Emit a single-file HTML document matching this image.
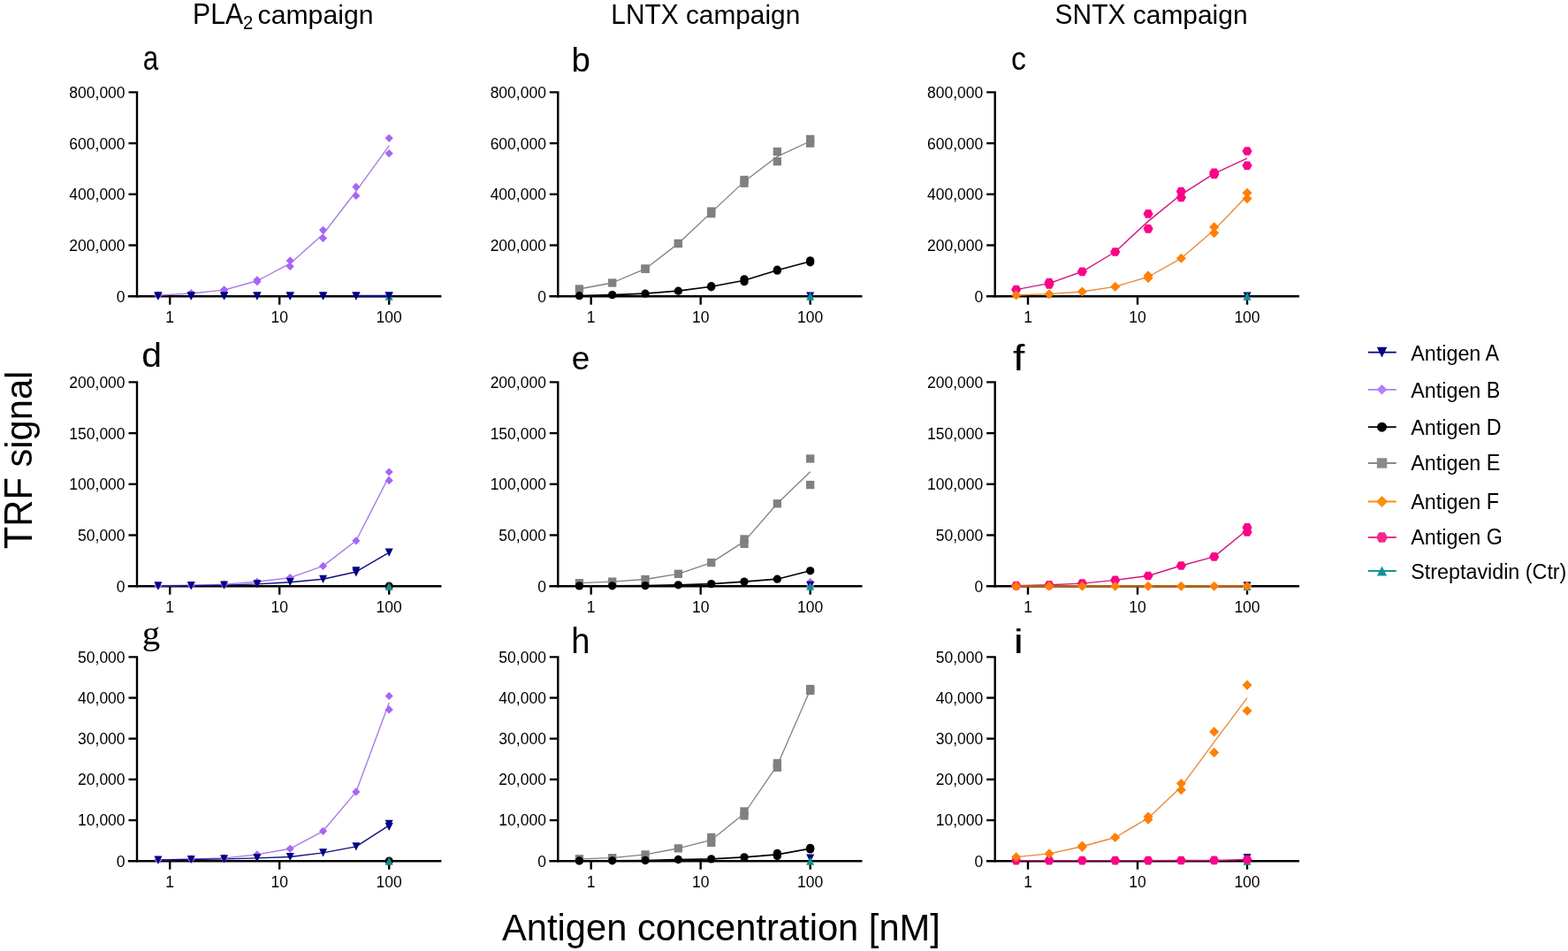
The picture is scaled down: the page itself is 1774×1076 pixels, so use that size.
<!DOCTYPE html><html><head><meta charset="utf-8"><title>TRF signal vs antigen concentration</title>
<style>html,body{margin:0;padding:0;background:#fff;}svg{display:block;}text{font-family:"Liberation Sans", Arial, Helvetica, sans-serif;fill:#000;}</style></head><body>
<svg width="1774" height="1076" viewBox="0 0 1774 1076">
<rect width="1774" height="1076" fill="#fff"/>
<text transform="translate(218 27.1) scale(1 1.07)" font-size="30.2">PLA<tspan x="57" y="5.14" font-size="20.2">2</tspan></text>
<text x="291.6" y="27.1" font-size="30.2">campaign</text>
<text transform="translate(691.3 27.1) scale(1 1.07)" font-size="29.85">LNTX</text>
<text x="775.88" y="27.1" font-size="29.85">campaign</text>
<text transform="translate(1193.6 27.1) scale(1 1.07)" font-size="29.95">SNTX</text>
<text x="1281.77" y="27.1" font-size="29.95">campaign</text>
<text transform="matrix(0.7854 0 0 0.9563 161.73 79.46)" font-size="40">a</text>
<text transform="matrix(0.9611 0 0 0.9915 646.60 81.25)" font-size="40">b</text>
<text transform="matrix(0.8464 0 0 0.9379 1143.92 79.37)" font-size="40">c</text>
<text transform="matrix(1.0222 0 0 0.9915 160.21 414.95)" font-size="40">d</text>
<text transform="matrix(0.9227 0 0 0.9379 646.79 417.77)" font-size="40">e</text>
<text transform="matrix(1.2000 0 0 1.0000 1146.10 418.80)" font-size="40">f</text>
<text transform="matrix(1.0229 0 0 0.9517 160.71 728.71)" font-size="40" style="font-family:'Liberation Serif',serif">g</text>
<text transform="matrix(0.9529 0 0 1.0103 646.28 739.40)" font-size="40">h</text>
<text transform="matrix(1.2571 0 0 0.9517 1146.64 739.40)" font-size="40">i</text>
<path d="M145.5 104.4H155V336.4" fill="none" stroke="#000" stroke-width="2.4" stroke-linejoin="miter" stroke-linecap="butt"/>
<path d="M144.8 335.2H499.4" stroke="#000" stroke-width="2.4"/>
<path d="M145.5 277.5H155" stroke="#000" stroke-width="2.4"/>
<path d="M145.5 219.8H155" stroke="#000" stroke-width="2.4"/>
<path d="M145.5 162.1H155" stroke="#000" stroke-width="2.4"/>
<text x="141.6" y="341.6" font-size="17.5" text-anchor="end">0</text>
<text x="141.6" y="283.9" font-size="17.5" text-anchor="end">200,000</text>
<text x="141.6" y="226.2" font-size="17.5" text-anchor="end">400,000</text>
<text x="141.6" y="168.5" font-size="17.5" text-anchor="end">600,000</text>
<text x="141.6" y="110.8" font-size="17.5" text-anchor="end">800,000</text>
<path d="M192.2 335.2V344.7" stroke="#000" stroke-width="2.4"/>
<text x="192.2" y="364.7" font-size="17.5" text-anchor="middle">1</text>
<path d="M316.2 335.2V344.7" stroke="#000" stroke-width="2.4"/>
<text x="316.2" y="364.7" font-size="17.5" text-anchor="middle">10</text>
<path d="M440.2 335.2V344.7" stroke="#000" stroke-width="2.4"/>
<text x="440.2" y="364.7" font-size="17.5" text-anchor="middle">100</text>
<polyline points="178.91,334.1 216.23,332 253.56,328.1 290.89,317.75 328.22,298.2 365.54,264.95 402.87,216.45 440.2,164.95" fill="none" stroke="#a97ae6" stroke-width="1.4" stroke-linejoin="round"/>
<polyline points="402.87,335 440.2,335" fill="none" stroke="#10107c" stroke-width="2.4" stroke-linejoin="round"/>
<polygon points="178.91,329.4 183.51,334 178.91,338.6 174.31,334" fill="#a864f8"/>
<polygon points="178.91,329.6 183.51,334.2 178.91,338.8 174.31,334.2" fill="#a864f8"/>
<polygon points="216.23,327.2 220.83,331.8 216.23,336.4 211.63,331.8" fill="#a864f8"/>
<polygon points="216.23,327.6 220.83,332.2 216.23,336.8 211.63,332.2" fill="#a864f8"/>
<polygon points="253.56,323.2 258.16,327.8 253.56,332.4 248.96,327.8" fill="#a864f8"/>
<polygon points="253.56,323.8 258.16,328.4 253.56,333 248.96,328.4" fill="#a864f8"/>
<polygon points="290.89,312.2 295.49,316.8 290.89,321.4 286.29,316.8" fill="#a864f8"/>
<polygon points="290.89,314.1 295.49,318.7 290.89,323.3 286.29,318.7" fill="#a864f8"/>
<polygon points="328.22,290.3 332.82,294.9 328.22,299.5 323.62,294.9" fill="#a864f8"/>
<polygon points="328.22,296.9 332.82,301.5 328.22,306.1 323.62,301.5" fill="#a864f8"/>
<polygon points="365.54,255.7 370.14,260.3 365.54,264.9 360.94,260.3" fill="#a864f8"/>
<polygon points="365.54,265 370.14,269.6 365.54,274.2 360.94,269.6" fill="#a864f8"/>
<polygon points="402.87,206.8 407.47,211.4 402.87,216 398.27,211.4" fill="#a864f8"/>
<polygon points="402.87,216.9 407.47,221.5 402.87,226.1 398.27,221.5" fill="#a864f8"/>
<polygon points="440.2,151.7 444.8,156.3 440.2,160.9 435.6,156.3" fill="#a864f8"/>
<polygon points="440.2,169 444.8,173.6 440.2,178.2 435.6,173.6" fill="#a864f8"/>
<polygon points="435.7,339.7 444.7,339.7 440.2,330.7" fill="#0e9090"/>
<polygon points="174.41,330.41 183.41,330.41 178.91,339.59" fill="#000080"/>
<polygon points="174.41,330.41 183.41,330.41 178.91,339.59" fill="#000080"/>
<polygon points="211.73,330.41 220.73,330.41 216.23,339.59" fill="#000080"/>
<polygon points="211.73,330.41 220.73,330.41 216.23,339.59" fill="#000080"/>
<polygon points="249.06,330.41 258.06,330.41 253.56,339.59" fill="#000080"/>
<polygon points="249.06,330.41 258.06,330.41 253.56,339.59" fill="#000080"/>
<polygon points="286.39,330.41 295.39,330.41 290.89,339.59" fill="#000080"/>
<polygon points="286.39,330.41 295.39,330.41 290.89,339.59" fill="#000080"/>
<polygon points="323.72,330.41 332.72,330.41 328.22,339.59" fill="#000080"/>
<polygon points="323.72,330.41 332.72,330.41 328.22,339.59" fill="#000080"/>
<polygon points="361.04,330.41 370.04,330.41 365.54,339.59" fill="#000080"/>
<polygon points="361.04,330.41 370.04,330.41 365.54,339.59" fill="#000080"/>
<polygon points="398.37,330.41 407.37,330.41 402.87,339.59" fill="#000080"/>
<polygon points="398.37,330.41 407.37,330.41 402.87,339.59" fill="#000080"/>
<polygon points="435.7,330.41 444.7,330.41 440.2,339.59" fill="#000080"/>
<polygon points="435.7,330.41 444.7,330.41 440.2,339.59" fill="#000080"/>
<path d="M621.8 104.4H631.3V336.4" fill="none" stroke="#000" stroke-width="2.4" stroke-linejoin="miter" stroke-linecap="butt"/>
<path d="M621.4 335.2H975.5" stroke="#000" stroke-width="2.4"/>
<path d="M621.8 277.5H631.3" stroke="#000" stroke-width="2.4"/>
<path d="M621.8 219.8H631.3" stroke="#000" stroke-width="2.4"/>
<path d="M621.8 162.1H631.3" stroke="#000" stroke-width="2.4"/>
<text x="617.9" y="341.6" font-size="17.5" text-anchor="end">0</text>
<text x="617.9" y="283.9" font-size="17.5" text-anchor="end">200,000</text>
<text x="617.9" y="226.2" font-size="17.5" text-anchor="end">400,000</text>
<text x="617.9" y="168.5" font-size="17.5" text-anchor="end">600,000</text>
<text x="617.9" y="110.8" font-size="17.5" text-anchor="end">800,000</text>
<path d="M668.7 335.2V344.7" stroke="#000" stroke-width="2.4"/>
<text x="668.7" y="364.7" font-size="17.5" text-anchor="middle">1</text>
<path d="M792.7 335.2V344.7" stroke="#000" stroke-width="2.4"/>
<text x="792.7" y="364.7" font-size="17.5" text-anchor="middle">10</text>
<path d="M916.7 335.2V344.7" stroke="#000" stroke-width="2.4"/>
<text x="916.7" y="364.7" font-size="17.5" text-anchor="middle">100</text>
<polyline points="655.41,327 692.73,320 730.06,304.15 767.39,275.5 804.72,240.4 842.04,205.4 879.37,177.1 916.7,159.75" fill="none" stroke="#808080" stroke-width="1.3" stroke-linejoin="round"/>
<polyline points="655.41,334.7 692.73,333.6 730.06,332.2 767.39,329.2 804.72,324.25 842.04,317.25 879.37,305.7 916.7,295.8" fill="none" stroke="#000000" stroke-width="1.7" stroke-linejoin="round"/>
<rect x="650.76" y="322.35" width="9.3" height="9.3" fill="#808080"/>
<rect x="688.08" y="315.35" width="9.3" height="9.3" fill="#808080"/>
<rect x="725.41" y="299.35" width="9.3" height="9.3" fill="#808080"/>
<rect x="725.41" y="299.65" width="9.3" height="9.3" fill="#808080"/>
<rect x="762.74" y="270.75" width="9.3" height="9.3" fill="#808080"/>
<rect x="762.74" y="270.95" width="9.3" height="9.3" fill="#808080"/>
<rect x="800.07" y="234.45" width="9.3" height="9.3" fill="#808080"/>
<rect x="800.07" y="237.05" width="9.3" height="9.3" fill="#808080"/>
<rect x="837.39" y="198.85" width="9.3" height="9.3" fill="#808080"/>
<rect x="837.39" y="202.65" width="9.3" height="9.3" fill="#808080"/>
<rect x="874.72" y="166.85" width="9.3" height="9.3" fill="#808080"/>
<rect x="874.72" y="178.05" width="9.3" height="9.3" fill="#808080"/>
<rect x="912.05" y="152.75" width="9.3" height="9.3" fill="#808080"/>
<rect x="912.05" y="157.45" width="9.3" height="9.3" fill="#808080"/>
<circle cx="655.41" cy="334.7" r="4.65" fill="#000000"/>
<circle cx="692.73" cy="333.6" r="4.65" fill="#000000"/>
<circle cx="730.06" cy="332.2" r="4.65" fill="#000000"/>
<circle cx="767.39" cy="329.2" r="4.65" fill="#000000"/>
<circle cx="804.72" cy="323.7" r="4.65" fill="#000000"/>
<circle cx="804.72" cy="324.8" r="4.65" fill="#000000"/>
<circle cx="842.04" cy="315.8" r="4.65" fill="#000000"/>
<circle cx="842.04" cy="318.7" r="4.65" fill="#000000"/>
<circle cx="879.37" cy="305.2" r="4.65" fill="#000000"/>
<circle cx="879.37" cy="306.2" r="4.65" fill="#000000"/>
<circle cx="916.7" cy="294.8" r="4.65" fill="#000000"/>
<circle cx="916.7" cy="296.8" r="4.65" fill="#000000"/>
<polygon points="912.2,330.41 921.2,330.41 916.7,339.59" fill="#000080"/>
<polygon points="912.2,339.7 921.2,339.7 916.7,330.7" fill="#0e9090"/>
<path d="M1116.2 104.4H1125.7V336.4" fill="none" stroke="#000" stroke-width="2.4" stroke-linejoin="miter" stroke-linecap="butt"/>
<path d="M1115.9 335.2H1470" stroke="#000" stroke-width="2.4"/>
<path d="M1116.2 277.5H1125.7" stroke="#000" stroke-width="2.4"/>
<path d="M1116.2 219.8H1125.7" stroke="#000" stroke-width="2.4"/>
<path d="M1116.2 162.1H1125.7" stroke="#000" stroke-width="2.4"/>
<text x="1112.3" y="341.6" font-size="17.5" text-anchor="end">0</text>
<text x="1112.3" y="283.9" font-size="17.5" text-anchor="end">200,000</text>
<text x="1112.3" y="226.2" font-size="17.5" text-anchor="end">400,000</text>
<text x="1112.3" y="168.5" font-size="17.5" text-anchor="end">600,000</text>
<text x="1112.3" y="110.8" font-size="17.5" text-anchor="end">800,000</text>
<path d="M1163 335.2V344.7" stroke="#000" stroke-width="2.4"/>
<text x="1163" y="364.7" font-size="17.5" text-anchor="middle">1</text>
<path d="M1287 335.2V344.7" stroke="#000" stroke-width="2.4"/>
<text x="1287" y="364.7" font-size="17.5" text-anchor="middle">10</text>
<path d="M1411 335.2V344.7" stroke="#000" stroke-width="2.4"/>
<text x="1411" y="364.7" font-size="17.5" text-anchor="middle">100</text>
<polyline points="1149.71,327.6 1187.03,320.65 1224.36,307.3 1261.69,285 1299.02,250.35 1336.34,220.05 1373.67,196.4 1411,179.15" fill="none" stroke="#d4167f" stroke-width="1.45" stroke-linejoin="round"/>
<polyline points="1149.71,334 1187.03,332.7 1224.36,330 1261.69,324.4 1299.02,313.25 1336.34,292.3 1373.67,260.25 1411,221.45" fill="none" stroke="#e8893a" stroke-width="1.35" stroke-linejoin="round"/>
<polygon points="1144.11,327.6 1146.91,322.75 1152.51,322.75 1155.31,327.6 1152.51,332.45 1146.91,332.45" fill="#fa0388"/>
<polygon points="1181.43,319.5 1184.23,314.65 1189.83,314.65 1192.63,319.5 1189.83,324.35 1184.23,324.35" fill="#fa0388"/>
<polygon points="1181.43,321.8 1184.23,316.95 1189.83,316.95 1192.63,321.8 1189.83,326.65 1184.23,326.65" fill="#fa0388"/>
<polygon points="1218.76,307.3 1221.56,302.45 1227.16,302.45 1229.96,307.3 1227.16,312.15 1221.56,312.15" fill="#fa0388"/>
<polygon points="1256.09,285 1258.89,280.15 1264.49,280.15 1267.29,285 1264.49,289.85 1258.89,289.85" fill="#fa0388"/>
<polygon points="1293.42,241.9 1296.22,237.05 1301.82,237.05 1304.62,241.9 1301.82,246.75 1296.22,246.75" fill="#fa0388"/>
<polygon points="1293.42,258.8 1296.22,253.95 1301.82,253.95 1304.62,258.8 1301.82,263.65 1296.22,263.65" fill="#fa0388"/>
<polygon points="1330.74,216.7 1333.54,211.85 1339.14,211.85 1341.94,216.7 1339.14,221.55 1333.54,221.55" fill="#fa0388"/>
<polygon points="1330.74,223.4 1333.54,218.55 1339.14,218.55 1341.94,223.4 1339.14,228.25 1333.54,228.25" fill="#fa0388"/>
<polygon points="1368.07,195.3 1370.87,190.45 1376.47,190.45 1379.27,195.3 1376.47,200.15 1370.87,200.15" fill="#fa0388"/>
<polygon points="1368.07,197.5 1370.87,192.65 1376.47,192.65 1379.27,197.5 1376.47,202.35 1370.87,202.35" fill="#fa0388"/>
<polygon points="1405.4,171 1408.2,166.15 1413.8,166.15 1416.6,171 1413.8,175.85 1408.2,175.85" fill="#fa0388"/>
<polygon points="1405.4,187.3 1408.2,182.45 1413.8,182.45 1416.6,187.3 1413.8,192.15 1408.2,192.15" fill="#fa0388"/>
<polygon points="1149.71,328.45 1155.26,334 1149.71,339.55 1144.16,334" fill="#fe8005"/>
<polygon points="1187.03,327.15 1192.58,332.7 1187.03,338.25 1181.48,332.7" fill="#fe8005"/>
<polygon points="1224.36,324.45 1229.91,330 1224.36,335.55 1218.81,330" fill="#fe8005"/>
<polygon points="1261.69,318.85 1267.24,324.4 1261.69,329.95 1256.14,324.4" fill="#fe8005"/>
<polygon points="1299.02,306.35 1304.57,311.9 1299.02,317.45 1293.47,311.9" fill="#fe8005"/>
<polygon points="1299.02,309.05 1304.57,314.6 1299.02,320.15 1293.47,314.6" fill="#fe8005"/>
<polygon points="1336.34,286.75 1341.89,292.3 1336.34,297.85 1330.79,292.3" fill="#fe8005"/>
<polygon points="1373.67,251.35 1379.22,256.9 1373.67,262.45 1368.12,256.9" fill="#fe8005"/>
<polygon points="1373.67,258.05 1379.22,263.6 1373.67,269.15 1368.12,263.6" fill="#fe8005"/>
<polygon points="1411,212.65 1416.55,218.2 1411,223.75 1405.45,218.2" fill="#fe8005"/>
<polygon points="1411,219.15 1416.55,224.7 1411,230.25 1405.45,224.7" fill="#fe8005"/>
<polygon points="1406.5,330.41 1415.5,330.41 1411,339.59" fill="#000080"/>
<polygon points="1406.5,339.7 1415.5,339.7 1411,330.7" fill="#0e9090"/>
<path d="M145.5 432.4H155V664.4" fill="none" stroke="#000" stroke-width="2.4" stroke-linejoin="miter" stroke-linecap="butt"/>
<path d="M144.8 663.2H499.4" stroke="#000" stroke-width="2.4"/>
<path d="M145.5 605.5H155" stroke="#000" stroke-width="2.4"/>
<path d="M145.5 547.8H155" stroke="#000" stroke-width="2.4"/>
<path d="M145.5 490.1H155" stroke="#000" stroke-width="2.4"/>
<text x="141.6" y="669.6" font-size="17.5" text-anchor="end">0</text>
<text x="141.6" y="611.9" font-size="17.5" text-anchor="end">50,000</text>
<text x="141.6" y="554.2" font-size="17.5" text-anchor="end">100,000</text>
<text x="141.6" y="496.5" font-size="17.5" text-anchor="end">150,000</text>
<text x="141.6" y="438.8" font-size="17.5" text-anchor="end">200,000</text>
<path d="M192.2 663.2V672.7" stroke="#000" stroke-width="2.4"/>
<text x="192.2" y="692.7" font-size="17.5" text-anchor="middle">1</text>
<path d="M316.2 663.2V672.7" stroke="#000" stroke-width="2.4"/>
<text x="316.2" y="692.7" font-size="17.5" text-anchor="middle">10</text>
<path d="M440.2 663.2V672.7" stroke="#000" stroke-width="2.4"/>
<text x="440.2" y="692.7" font-size="17.5" text-anchor="middle">100</text>
<polyline points="178.91,662.8 216.23,662.3 253.56,661.2 290.89,658.3 328.22,653.6 365.54,640.4 402.87,611.8 440.2,538.85" fill="none" stroke="#a97ae6" stroke-width="1.4" stroke-linejoin="round"/>
<polyline points="178.91,662.9 216.23,662.6 253.56,662.1 290.89,660.9 328.22,658.7 365.54,655.3 402.87,646.95 440.2,625.1" fill="none" stroke="#10107c" stroke-width="1.4" stroke-linejoin="round"/>
<polygon points="178.91,658.2 183.51,662.8 178.91,667.4 174.31,662.8" fill="#a864f8"/>
<polygon points="216.23,657.7 220.83,662.3 216.23,666.9 211.63,662.3" fill="#a864f8"/>
<polygon points="253.56,656.6 258.16,661.2 253.56,665.8 248.96,661.2" fill="#a864f8"/>
<polygon points="290.89,653.7 295.49,658.3 290.89,662.9 286.29,658.3" fill="#a864f8"/>
<polygon points="328.22,649 332.82,653.6 328.22,658.2 323.62,653.6" fill="#a864f8"/>
<polygon points="365.54,635.8 370.14,640.4 365.54,645 360.94,640.4" fill="#a864f8"/>
<polygon points="402.87,607.2 407.47,611.8 402.87,616.4 398.27,611.8" fill="#a864f8"/>
<polygon points="440.2,529.4 444.8,534 440.2,538.6 435.6,534" fill="#a864f8"/>
<polygon points="440.2,539.1 444.8,543.7 440.2,548.3 435.6,543.7" fill="#a864f8"/>
<circle cx="440.2" cy="663.2" r="4.65" fill="#000000"/>
<polygon points="174.41,658.31 183.41,658.31 178.91,667.49" fill="#000080"/>
<polygon points="211.73,658.01 220.73,658.01 216.23,667.19" fill="#000080"/>
<polygon points="249.06,657.51 258.06,657.51 253.56,666.69" fill="#000080"/>
<polygon points="286.39,656.31 295.39,656.31 290.89,665.49" fill="#000080"/>
<polygon points="323.72,654.11 332.72,654.11 328.22,663.29" fill="#000080"/>
<polygon points="361.04,650.71 370.04,650.71 365.54,659.89" fill="#000080"/>
<polygon points="398.37,641.31 407.37,641.31 402.87,650.49" fill="#000080"/>
<polygon points="398.37,643.41 407.37,643.41 402.87,652.59" fill="#000080"/>
<polygon points="435.7,620.51 444.7,620.51 440.2,629.69" fill="#000080"/>
<polygon points="435.7,667.7 444.7,667.7 440.2,658.7" fill="#0e9090"/>
<path d="M621.8 432.4H631.3V664.4" fill="none" stroke="#000" stroke-width="2.4" stroke-linejoin="miter" stroke-linecap="butt"/>
<path d="M621.4 663.2H975.5" stroke="#000" stroke-width="2.4"/>
<path d="M621.8 605.5H631.3" stroke="#000" stroke-width="2.4"/>
<path d="M621.8 547.8H631.3" stroke="#000" stroke-width="2.4"/>
<path d="M621.8 490.1H631.3" stroke="#000" stroke-width="2.4"/>
<text x="617.9" y="669.6" font-size="17.5" text-anchor="end">0</text>
<text x="617.9" y="611.9" font-size="17.5" text-anchor="end">50,000</text>
<text x="617.9" y="554.2" font-size="17.5" text-anchor="end">100,000</text>
<text x="617.9" y="496.5" font-size="17.5" text-anchor="end">150,000</text>
<text x="617.9" y="438.8" font-size="17.5" text-anchor="end">200,000</text>
<path d="M668.7 663.2V672.7" stroke="#000" stroke-width="2.4"/>
<text x="668.7" y="692.7" font-size="17.5" text-anchor="middle">1</text>
<path d="M792.7 663.2V672.7" stroke="#000" stroke-width="2.4"/>
<text x="792.7" y="692.7" font-size="17.5" text-anchor="middle">10</text>
<path d="M916.7 663.2V672.7" stroke="#000" stroke-width="2.4"/>
<text x="916.7" y="692.7" font-size="17.5" text-anchor="middle">100</text>
<polyline points="655.41,659.7 692.73,658.1 730.06,655.5 767.39,649.3 804.72,636.6 842.04,612.65 879.37,569.8 916.7,533.8" fill="none" stroke="#808080" stroke-width="1.3" stroke-linejoin="round"/>
<polyline points="655.41,662.9 692.73,662.8 730.06,662.6 767.39,661.8 804.72,660.6 842.04,658.1 879.37,655.2 916.7,645.8" fill="none" stroke="#000000" stroke-width="1.7" stroke-linejoin="round"/>
<rect x="650.76" y="655.05" width="9.3" height="9.3" fill="#808080"/>
<rect x="688.08" y="653.45" width="9.3" height="9.3" fill="#808080"/>
<rect x="725.41" y="650.85" width="9.3" height="9.3" fill="#808080"/>
<rect x="762.74" y="644.65" width="9.3" height="9.3" fill="#808080"/>
<rect x="800.07" y="631.95" width="9.3" height="9.3" fill="#808080"/>
<rect x="837.39" y="605.35" width="9.3" height="9.3" fill="#808080"/>
<rect x="837.39" y="610.65" width="9.3" height="9.3" fill="#808080"/>
<rect x="874.72" y="565.15" width="9.3" height="9.3" fill="#808080"/>
<rect x="912.05" y="514.35" width="9.3" height="9.3" fill="#808080"/>
<rect x="912.05" y="543.95" width="9.3" height="9.3" fill="#808080"/>
<polygon points="916.7,654.1 921.3,658.7 916.7,663.3 912.1,658.7" fill="#a864f8"/>
<polygon points="916.7,658.4 921.3,663 916.7,667.6 912.1,663" fill="#a864f8"/>
<circle cx="655.41" cy="662.9" r="4.65" fill="#000000"/>
<circle cx="692.73" cy="662.8" r="4.65" fill="#000000"/>
<circle cx="730.06" cy="662.6" r="4.65" fill="#000000"/>
<circle cx="767.39" cy="661.8" r="4.65" fill="#000000"/>
<circle cx="804.72" cy="660.6" r="4.65" fill="#000000"/>
<circle cx="842.04" cy="658.1" r="4.65" fill="#000000"/>
<circle cx="879.37" cy="655.2" r="4.65" fill="#000000"/>
<circle cx="916.7" cy="645.8" r="4.65" fill="#000000"/>
<polygon points="912.2,657.81 921.2,657.81 916.7,666.99" fill="#000080"/>
<polygon points="912.2,667.8 921.2,667.8 916.7,658.8" fill="#0e9090"/>
<path d="M1116.2 432.4H1125.7V664.4" fill="none" stroke="#000" stroke-width="2.4" stroke-linejoin="miter" stroke-linecap="butt"/>
<path d="M1115.9 663.2H1470" stroke="#000" stroke-width="2.4"/>
<path d="M1116.2 605.5H1125.7" stroke="#000" stroke-width="2.4"/>
<path d="M1116.2 547.8H1125.7" stroke="#000" stroke-width="2.4"/>
<path d="M1116.2 490.1H1125.7" stroke="#000" stroke-width="2.4"/>
<text x="1112.3" y="669.6" font-size="17.5" text-anchor="end">0</text>
<text x="1112.3" y="611.9" font-size="17.5" text-anchor="end">50,000</text>
<text x="1112.3" y="554.2" font-size="17.5" text-anchor="end">100,000</text>
<text x="1112.3" y="496.5" font-size="17.5" text-anchor="end">150,000</text>
<text x="1112.3" y="438.8" font-size="17.5" text-anchor="end">200,000</text>
<path d="M1163 663.2V672.7" stroke="#000" stroke-width="2.4"/>
<text x="1163" y="692.7" font-size="17.5" text-anchor="middle">1</text>
<path d="M1287 663.2V672.7" stroke="#000" stroke-width="2.4"/>
<text x="1287" y="692.7" font-size="17.5" text-anchor="middle">10</text>
<path d="M1411 663.2V672.7" stroke="#000" stroke-width="2.4"/>
<text x="1411" y="692.7" font-size="17.5" text-anchor="middle">100</text>
<polyline points="1149.71,662.6 1187.03,661.8 1224.36,660.1 1261.69,656.4 1299.02,651.5 1336.34,640 1373.67,629.9 1411,599.45" fill="none" stroke="#d4167f" stroke-width="1.45" stroke-linejoin="round"/>
<polyline points="1149.71,663.2 1187.03,663.2 1224.36,663.2 1261.69,663.2 1299.02,663.2 1336.34,663.2 1373.67,663.2 1411,663.2" fill="none" stroke="#b4600e" stroke-width="2.4" stroke-linejoin="round"/>
<polygon points="1144.11,662.6 1146.91,657.75 1152.51,657.75 1155.31,662.6 1152.51,667.45 1146.91,667.45" fill="#fa0388"/>
<polygon points="1181.43,661.8 1184.23,656.95 1189.83,656.95 1192.63,661.8 1189.83,666.65 1184.23,666.65" fill="#fa0388"/>
<polygon points="1218.76,660.1 1221.56,655.25 1227.16,655.25 1229.96,660.1 1227.16,664.95 1221.56,664.95" fill="#fa0388"/>
<polygon points="1256.09,656.4 1258.89,651.55 1264.49,651.55 1267.29,656.4 1264.49,661.25 1258.89,661.25" fill="#fa0388"/>
<polygon points="1293.42,651.5 1296.22,646.65 1301.82,646.65 1304.62,651.5 1301.82,656.35 1296.22,656.35" fill="#fa0388"/>
<polygon points="1330.74,640 1333.54,635.15 1339.14,635.15 1341.94,640 1339.14,644.85 1333.54,644.85" fill="#fa0388"/>
<polygon points="1368.07,629.9 1370.87,625.05 1376.47,625.05 1379.27,629.9 1376.47,634.75 1370.87,634.75" fill="#fa0388"/>
<polygon points="1405.4,596.9 1408.2,592.05 1413.8,592.05 1416.6,596.9 1413.8,601.75 1408.2,601.75" fill="#fa0388"/>
<polygon points="1405.4,602 1408.2,597.15 1413.8,597.15 1416.6,602 1413.8,606.85 1408.2,606.85" fill="#fa0388"/>
<polygon points="1406.5,658.21 1415.5,658.21 1411,667.39" fill="#000080"/>
<polygon points="1406.5,668.1 1415.5,668.1 1411,659.1" fill="#0e9090"/>
<polygon points="1149.71,657.65 1155.26,663.2 1149.71,668.75 1144.16,663.2" fill="#fe8005"/>
<polygon points="1187.03,657.65 1192.58,663.2 1187.03,668.75 1181.48,663.2" fill="#fe8005"/>
<polygon points="1224.36,657.65 1229.91,663.2 1224.36,668.75 1218.81,663.2" fill="#fe8005"/>
<polygon points="1261.69,657.65 1267.24,663.2 1261.69,668.75 1256.14,663.2" fill="#fe8005"/>
<polygon points="1299.02,657.65 1304.57,663.2 1299.02,668.75 1293.47,663.2" fill="#fe8005"/>
<polygon points="1336.34,657.65 1341.89,663.2 1336.34,668.75 1330.79,663.2" fill="#fe8005"/>
<polygon points="1373.67,657.65 1379.22,663.2 1373.67,668.75 1368.12,663.2" fill="#fe8005"/>
<polygon points="1411,657.65 1416.55,663.2 1411,668.75 1405.45,663.2" fill="#fe8005"/>
<path d="M145.5 743.4H155V975.4" fill="none" stroke="#000" stroke-width="2.4" stroke-linejoin="miter" stroke-linecap="butt"/>
<path d="M144.8 974.2H499.4" stroke="#000" stroke-width="2.4"/>
<path d="M145.5 928.04H155" stroke="#000" stroke-width="2.4"/>
<path d="M145.5 881.88H155" stroke="#000" stroke-width="2.4"/>
<path d="M145.5 835.72H155" stroke="#000" stroke-width="2.4"/>
<path d="M145.5 789.56H155" stroke="#000" stroke-width="2.4"/>
<text x="141.6" y="980.6" font-size="17.5" text-anchor="end">0</text>
<text x="141.6" y="934.44" font-size="17.5" text-anchor="end">10,000</text>
<text x="141.6" y="888.28" font-size="17.5" text-anchor="end">20,000</text>
<text x="141.6" y="842.12" font-size="17.5" text-anchor="end">30,000</text>
<text x="141.6" y="795.96" font-size="17.5" text-anchor="end">40,000</text>
<text x="141.6" y="749.8" font-size="17.5" text-anchor="end">50,000</text>
<path d="M192.2 974.2V983.7" stroke="#000" stroke-width="2.4"/>
<text x="192.2" y="1003.7" font-size="17.5" text-anchor="middle">1</text>
<path d="M316.2 974.2V983.7" stroke="#000" stroke-width="2.4"/>
<text x="316.2" y="1003.7" font-size="17.5" text-anchor="middle">10</text>
<path d="M440.2 974.2V983.7" stroke="#000" stroke-width="2.4"/>
<text x="440.2" y="1003.7" font-size="17.5" text-anchor="middle">100</text>
<polyline points="178.91,973 216.23,971.9 253.56,970.9 290.89,966.9 328.22,960.3 365.54,940.3 402.87,895.9 440.2,795.2" fill="none" stroke="#a97ae6" stroke-width="1.4" stroke-linejoin="round"/>
<polyline points="178.91,973 216.23,972.5 253.56,971.9 290.89,970.9 328.22,969.5 365.54,964.9 402.87,957.9 440.2,933.9" fill="none" stroke="#10107c" stroke-width="1.4" stroke-linejoin="round"/>
<polygon points="178.91,968.4 183.51,973 178.91,977.6 174.31,973" fill="#a864f8"/>
<polygon points="216.23,967.3 220.83,971.9 216.23,976.5 211.63,971.9" fill="#a864f8"/>
<polygon points="253.56,966.3 258.16,970.9 253.56,975.5 248.96,970.9" fill="#a864f8"/>
<polygon points="290.89,962.3 295.49,966.9 290.89,971.5 286.29,966.9" fill="#a864f8"/>
<polygon points="328.22,955.7 332.82,960.3 328.22,964.9 323.62,960.3" fill="#a864f8"/>
<polygon points="365.54,935.7 370.14,940.3 365.54,944.9 360.94,940.3" fill="#a864f8"/>
<polygon points="402.87,891.3 407.47,895.9 402.87,900.5 398.27,895.9" fill="#a864f8"/>
<polygon points="440.2,782.9 444.8,787.5 440.2,792.1 435.6,787.5" fill="#a864f8"/>
<polygon points="440.2,798.3 444.8,802.9 440.2,807.5 435.6,802.9" fill="#a864f8"/>
<circle cx="440.2" cy="974.2" r="4.65" fill="#000000"/>
<polygon points="174.41,968.41 183.41,968.41 178.91,977.59" fill="#000080"/>
<polygon points="211.73,967.91 220.73,967.91 216.23,977.09" fill="#000080"/>
<polygon points="249.06,967.31 258.06,967.31 253.56,976.49" fill="#000080"/>
<polygon points="286.39,966.31 295.39,966.31 290.89,975.49" fill="#000080"/>
<polygon points="323.72,964.91 332.72,964.91 328.22,974.09" fill="#000080"/>
<polygon points="361.04,960.31 370.04,960.31 365.54,969.49" fill="#000080"/>
<polygon points="398.37,953.31 407.37,953.31 402.87,962.49" fill="#000080"/>
<polygon points="435.7,927.71 444.7,927.71 440.2,936.89" fill="#000080"/>
<polygon points="435.7,930.91 444.7,930.91 440.2,940.09" fill="#000080"/>
<polygon points="435.7,978.7 444.7,978.7 440.2,969.7" fill="#0e9090"/>
<path d="M621.8 743.4H631.3V975.4" fill="none" stroke="#000" stroke-width="2.4" stroke-linejoin="miter" stroke-linecap="butt"/>
<path d="M621.4 974.2H975.5" stroke="#000" stroke-width="2.4"/>
<path d="M621.8 928.04H631.3" stroke="#000" stroke-width="2.4"/>
<path d="M621.8 881.88H631.3" stroke="#000" stroke-width="2.4"/>
<path d="M621.8 835.72H631.3" stroke="#000" stroke-width="2.4"/>
<path d="M621.8 789.56H631.3" stroke="#000" stroke-width="2.4"/>
<text x="617.9" y="980.6" font-size="17.5" text-anchor="end">0</text>
<text x="617.9" y="934.44" font-size="17.5" text-anchor="end">10,000</text>
<text x="617.9" y="888.28" font-size="17.5" text-anchor="end">20,000</text>
<text x="617.9" y="842.12" font-size="17.5" text-anchor="end">30,000</text>
<text x="617.9" y="795.96" font-size="17.5" text-anchor="end">40,000</text>
<text x="617.9" y="749.8" font-size="17.5" text-anchor="end">50,000</text>
<path d="M668.7 974.2V983.7" stroke="#000" stroke-width="2.4"/>
<text x="668.7" y="1003.7" font-size="17.5" text-anchor="middle">1</text>
<path d="M792.7 974.2V983.7" stroke="#000" stroke-width="2.4"/>
<text x="792.7" y="1003.7" font-size="17.5" text-anchor="middle">10</text>
<path d="M916.7 974.2V983.7" stroke="#000" stroke-width="2.4"/>
<text x="916.7" y="1003.7" font-size="17.5" text-anchor="middle">100</text>
<polyline points="655.41,971.8 692.73,970.7 730.06,966.9 767.39,959.9 804.72,950.4 842.04,920.5 879.37,865.9 916.7,780.5" fill="none" stroke="#808080" stroke-width="1.3" stroke-linejoin="round"/>
<polyline points="655.41,974 692.73,973.8 730.06,973.5 767.39,972.5 804.72,971.9 842.04,969.9 879.37,966.9 916.7,960.15" fill="none" stroke="#000000" stroke-width="1.7" stroke-linejoin="round"/>
<rect x="650.76" y="967.15" width="9.3" height="9.3" fill="#808080"/>
<rect x="688.08" y="966.05" width="9.3" height="9.3" fill="#808080"/>
<rect x="725.41" y="962.25" width="9.3" height="9.3" fill="#808080"/>
<rect x="762.74" y="955.25" width="9.3" height="9.3" fill="#808080"/>
<rect x="800.07" y="942.75" width="9.3" height="9.3" fill="#808080"/>
<rect x="800.07" y="948.75" width="9.3" height="9.3" fill="#808080"/>
<rect x="837.39" y="913.35" width="9.3" height="9.3" fill="#808080"/>
<rect x="837.39" y="918.35" width="9.3" height="9.3" fill="#808080"/>
<rect x="874.72" y="858.85" width="9.3" height="9.3" fill="#808080"/>
<rect x="874.72" y="863.65" width="9.3" height="9.3" fill="#808080"/>
<rect x="912.05" y="774.85" width="9.3" height="9.3" fill="#808080"/>
<rect x="912.05" y="776.85" width="9.3" height="9.3" fill="#808080"/>
<circle cx="655.41" cy="974" r="4.65" fill="#000000"/>
<circle cx="692.73" cy="973.8" r="4.65" fill="#000000"/>
<circle cx="730.06" cy="973.5" r="4.65" fill="#000000"/>
<circle cx="767.39" cy="972.5" r="4.65" fill="#000000"/>
<circle cx="804.72" cy="971.9" r="4.65" fill="#000000"/>
<circle cx="842.04" cy="969.9" r="4.65" fill="#000000"/>
<circle cx="879.37" cy="965.4" r="4.65" fill="#000000"/>
<circle cx="879.37" cy="968.4" r="4.65" fill="#000000"/>
<circle cx="916.7" cy="959.4" r="4.65" fill="#000000"/>
<circle cx="916.7" cy="960.9" r="4.65" fill="#000000"/>
<polygon points="912.2,966.61 921.2,966.61 916.7,975.79" fill="#000080"/>
<polygon points="912.2,978.7 921.2,978.7 916.7,969.7" fill="#0e9090"/>
<path d="M1116.2 743.4H1125.7V975.4" fill="none" stroke="#000" stroke-width="2.4" stroke-linejoin="miter" stroke-linecap="butt"/>
<path d="M1115.9 974.2H1470" stroke="#000" stroke-width="2.4"/>
<path d="M1116.2 928.04H1125.7" stroke="#000" stroke-width="2.4"/>
<path d="M1116.2 881.88H1125.7" stroke="#000" stroke-width="2.4"/>
<path d="M1116.2 835.72H1125.7" stroke="#000" stroke-width="2.4"/>
<path d="M1116.2 789.56H1125.7" stroke="#000" stroke-width="2.4"/>
<text x="1112.3" y="980.6" font-size="17.5" text-anchor="end">0</text>
<text x="1112.3" y="934.44" font-size="17.5" text-anchor="end">10,000</text>
<text x="1112.3" y="888.28" font-size="17.5" text-anchor="end">20,000</text>
<text x="1112.3" y="842.12" font-size="17.5" text-anchor="end">30,000</text>
<text x="1112.3" y="795.96" font-size="17.5" text-anchor="end">40,000</text>
<text x="1112.3" y="749.8" font-size="17.5" text-anchor="end">50,000</text>
<path d="M1163 974.2V983.7" stroke="#000" stroke-width="2.4"/>
<text x="1163" y="1003.7" font-size="17.5" text-anchor="middle">1</text>
<path d="M1287 974.2V983.7" stroke="#000" stroke-width="2.4"/>
<text x="1287" y="1003.7" font-size="17.5" text-anchor="middle">10</text>
<path d="M1411 974.2V983.7" stroke="#000" stroke-width="2.4"/>
<text x="1411" y="1003.7" font-size="17.5" text-anchor="middle">100</text>
<polyline points="1149.71,973.6 1187.03,973.6 1224.36,973.6 1261.69,973.6 1299.02,973.6 1336.34,973.5 1373.67,973.4 1411,972.5" fill="none" stroke="#d4167f" stroke-width="1.45" stroke-linejoin="round"/>
<polyline points="1149.71,969.7 1187.03,965.9 1224.36,957.75 1261.69,947.5 1299.02,925.7 1336.34,890.15 1373.67,839.65 1411,789.7" fill="none" stroke="#e8893a" stroke-width="1.35" stroke-linejoin="round"/>
<polygon points="1406.5,965.91 1415.5,965.91 1411,975.09" fill="#000080"/>
<polygon points="1406.5,978.7 1415.5,978.7 1411,969.7" fill="#0e9090"/>
<polygon points="1144.11,973.6 1146.91,968.75 1152.51,968.75 1155.31,973.6 1152.51,978.45 1146.91,978.45" fill="#fa0388"/>
<polygon points="1181.43,973.6 1184.23,968.75 1189.83,968.75 1192.63,973.6 1189.83,978.45 1184.23,978.45" fill="#fa0388"/>
<polygon points="1218.76,973.6 1221.56,968.75 1227.16,968.75 1229.96,973.6 1227.16,978.45 1221.56,978.45" fill="#fa0388"/>
<polygon points="1256.09,973.6 1258.89,968.75 1264.49,968.75 1267.29,973.6 1264.49,978.45 1258.89,978.45" fill="#fa0388"/>
<polygon points="1293.42,973.6 1296.22,968.75 1301.82,968.75 1304.62,973.6 1301.82,978.45 1296.22,978.45" fill="#fa0388"/>
<polygon points="1330.74,973.5 1333.54,968.65 1339.14,968.65 1341.94,973.5 1339.14,978.35 1333.54,978.35" fill="#fa0388"/>
<polygon points="1368.07,973.4 1370.87,968.55 1376.47,968.55 1379.27,973.4 1376.47,978.25 1370.87,978.25" fill="#fa0388"/>
<polygon points="1405.4,972.5 1408.2,967.65 1413.8,967.65 1416.6,972.5 1413.8,977.35 1408.2,977.35" fill="#fa0388"/>
<polygon points="1149.71,964.15 1155.26,969.7 1149.71,975.25 1144.16,969.7" fill="#fe8005"/>
<polygon points="1187.03,960.35 1192.58,965.9 1187.03,971.45 1181.48,965.9" fill="#fe8005"/>
<polygon points="1224.36,951.45 1229.91,957 1224.36,962.55 1218.81,957" fill="#fe8005"/>
<polygon points="1224.36,952.95 1229.91,958.5 1224.36,964.05 1218.81,958.5" fill="#fe8005"/>
<polygon points="1261.69,941.95 1267.24,947.5 1261.69,953.05 1256.14,947.5" fill="#fe8005"/>
<polygon points="1299.02,918.55 1304.57,924.1 1299.02,929.65 1293.47,924.1" fill="#fe8005"/>
<polygon points="1299.02,921.75 1304.57,927.3 1299.02,932.85 1293.47,927.3" fill="#fe8005"/>
<polygon points="1336.34,880.95 1341.89,886.5 1336.34,892.05 1330.79,886.5" fill="#fe8005"/>
<polygon points="1336.34,888.25 1341.89,893.8 1336.34,899.35 1330.79,893.8" fill="#fe8005"/>
<polygon points="1373.67,822.35 1379.22,827.9 1373.67,833.45 1368.12,827.9" fill="#fe8005"/>
<polygon points="1373.67,845.85 1379.22,851.4 1373.67,856.95 1368.12,851.4" fill="#fe8005"/>
<polygon points="1411,769.55 1416.55,775.1 1411,780.65 1405.45,775.1" fill="#fe8005"/>
<polygon points="1411,798.75 1416.55,804.3 1411,809.85 1405.45,804.3" fill="#fe8005"/>
<path d="M1547.8 398.6H1579.7" stroke="#000080" stroke-width="1.8"/>
<polygon points="1557.75,392.74 1569.25,392.74 1563.5,404.47" fill="#000080"/>
<text x="1596.3" y="407.9" font-size="23.3">Antigen</text>
<text transform="translate(1680.5 407.9) scale(1 1.08)" font-size="23.3">A</text>
<path d="M1547.8 440.8H1579.7" stroke="#b080f6" stroke-width="1.8"/>
<polygon points="1563.5,435.05 1569.25,440.8 1563.5,446.55 1557.75,440.8" fill="#b080f6"/>
<text x="1596.3" y="449.7" font-size="23.3">Antigen</text>
<text transform="translate(1681.8 449.7) scale(1 1.08)" font-size="23.3">B</text>
<path d="M1547.8 483.2H1579.7" stroke="#000000" stroke-width="1.8"/>
<circle cx="1563.5" cy="483.2" r="5.5" fill="#000000"/>
<text x="1596.3" y="491.8" font-size="23.3">Antigen</text>
<text transform="translate(1681.8 491.8) scale(1 1.08)" font-size="23.3">D</text>
<path d="M1547.8 524H1579.7" stroke="#8a8a8a" stroke-width="1.8"/>
<rect x="1557.8" y="518.3" width="11.4" height="11.4" fill="#8a8a8a"/>
<text x="1596.3" y="532.1" font-size="23.3">Antigen</text>
<text transform="translate(1681.8 532.1) scale(1 1.08)" font-size="23.3">E</text>
<path d="M1547.8 567.5H1579.7" stroke="#f8900c" stroke-width="1.8"/>
<polygon points="1563.5,561 1570,567.5 1563.5,574 1557,567.5" fill="#f8900c"/>
<text x="1596.3" y="575.8" font-size="23.3">Antigen</text>
<text transform="translate(1681.8 575.8) scale(1 1.08)" font-size="23.3">F</text>
<path d="M1547.8 608H1579.7" stroke="#f22a8e" stroke-width="1.8"/>
<polygon points="1557,608 1560.25,602.37 1566.75,602.37 1570,608 1566.75,613.63 1560.25,613.63" fill="#f22a8e"/>
<text x="1596.3" y="616" font-size="23.3">Antigen</text>
<text transform="translate(1681.8 616) scale(1 1.08)" font-size="23.3">G</text>
<path d="M1547.8 646H1579.7" stroke="#1a9292" stroke-width="1.8"/>
<polygon points="1557.9,651.6 1569.1,651.6 1563.5,640.4" fill="#1a9292"/>
<text x="1596.3" y="654.7" font-size="23.3">Streptavidin (Ctr)</text>
<text x="568" y="1064.3" font-size="41.7">Antigen concentration [nM]</text>
<g transform="translate(35.7 520.4) rotate(-90)">
<text transform="translate(-100.77 0) scale(1 1.05)" font-size="41.7">TRF</text>
<text x="-8.15" y="0" font-size="41.7">signal</text>
</g>
</svg></body></html>
